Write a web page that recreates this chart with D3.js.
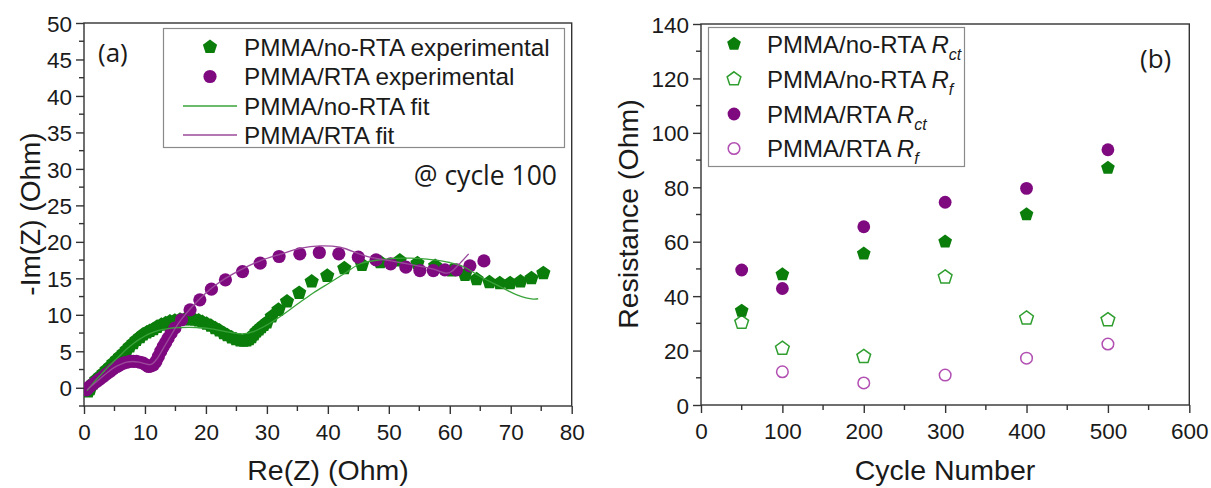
<!DOCTYPE html>
<html><head><meta charset="utf-8">
<script src="https://cdn.jsdelivr.net/npm/d3@7"></script>
<style>
body{margin:0;background:#fff;}
text{font-family:"Liberation Sans",Arial,sans-serif;fill:#1a1a1a;}
</style></head><body>
<svg id="c" width="1211" height="488"></svg>
<script>
// ---------- Panel (a) data: Nyquist, cycle 100 ----------
const noRtaExpRe = [0.7,1.0,1.5,2.0,2.6,3.2,3.7,4.3,4.8,5.4,5.9,6.5,7.0,7.5,8.1,8.6,9.2,9.7,10.3,10.8,11.4,12.0,12.7,13.4,14.1,14.9,15.75,16.6,17.4,18.1,18.8,19.4,20.1,20.8,21.5,22.2,22.9,23.5,24.2,24.9,25.6,26.2,26.7,27.1,27.5,27.9,28.3,28.7,29.1,29.5,30.0,30.8,31.9,33.3,35.3,37.35,39.9,42.7,45.6,48.6,51.8,54.7,57.6,60.3,62.5,64.4,66.5,68.2,69.9,71.6,73.4,75.35];
const noRtaExpIm = [-0.5,-0.2,0.6,1.1,1.55,2.0,2.47,2.9,3.38,3.85,4.29,4.75,5.2,5.65,6.12,6.55,6.94,7.3,7.58,7.8,8.04,8.35,8.63,8.85,9.09,9.2,9.32,9.38,9.41,9.32,9.22,9.0,8.77,8.5,8.17,7.85,7.49,7.2,6.89,6.65,6.48,6.45,6.48,6.65,6.94,7.3,7.72,8.0,8.31,8.6,8.95,9.77,10.68,11.82,13.0,14.56,15.34,16.39,16.85,17.2,17.44,17.07,16.71,16.07,15.47,14.88,14.47,14.34,14.34,14.56,15.02,15.71];
const rtaExpRe = [0.4,0.7,1.0,1.5,2.1,2.6,3.2,3.7,4.3,4.8,5.4,5.9,6.5,7.0,7.55,8.1,8.6,9.2,9.7,10.2,10.6,11.0,11.4,11.8,12.2,12.6,13.0,13.4,13.8,14.3,14.9,16.0,17.4,19.0,20.9,23.2,26.0,28.9,32.0,35.4,38.6,41.8,45.0,47.9,50.3,52.8,55.1,57.3,59.2,61.1,63.3,65.6];
const rtaExpIm = [-0.3,0.0,0.2,0.5,0.87,1.2,1.55,1.9,2.24,2.6,2.92,3.15,3.38,3.5,3.61,3.63,3.61,3.5,3.38,3.1,2.92,3.0,3.15,3.6,4.29,5.0,5.66,6.2,6.8,7.5,8.17,9.32,10.68,12.05,13.52,14.79,15.93,17.08,17.99,18.36,18.54,18.36,17.9,17.53,16.99,16.53,16.07,16.07,16.16,16.16,16.71,17.39];
const noRtaFitRe = [0.5,1,2,3,4,5,6,7,8,9,10,11,12,13,14,15.75,18.5,21.2,24,26.1,27.8,30,32.2,34.9,37.6,40.3,43,45.3,49.1,53.5,57.3,60,62.2,65,68.2,71,73.7,74.5];
const noRtaFitIm = [-0.4,0.1,1.1,2.0,2.9,3.7,4.5,5.3,6.0,6.6,7.1,7.5,7.8,8.0,8.15,8.26,8.26,8.04,7.58,7.4,7.7,8.6,9.77,11.4,13.0,14.4,15.8,17.0,17.6,17.76,17.53,17.17,16.62,15.25,13.88,12.74,12.15,12.2];
const rtaFitRe = [0.5,1,2,3,4,5,6,7,8,9,10,11,12,13,14,15,16,17.4,19,21,23.2,26,28.9,32.2,35.4,38.7,42,46.4,51.8,57.3,59.5,60.3,61.7,63.1];
const rtaFitIm = [-0.3,0.1,0.8,1.5,2.2,2.8,3.2,3.5,3.6,3.5,3.3,3.2,4.0,5.4,6.8,8.2,9.4,10.8,12.2,13.7,15.0,16.3,17.4,18.3,19.1,19.45,19.26,18.0,17.17,16.25,15.71,15.94,17.08,18.36];
const aXTicks = [0,10,20,30,40,50,60,70,80];
const aYTicks = [0,5,10,15,20,25,30,35,40,45,50];
const aLegend = ["PMMA/no-RTA experimental","PMMA/RTA experimental","PMMA/no-RTA fit","PMMA/RTA fit"];

// ---------- Panel (b) data: resistance vs cycle ----------
const cycles = [50,100,200,300,400,500];
const noRtaRct = [34.6,48.0,55.6,60.0,70.0,87.1];
const noRtaRf  = [30.3,20.8,17.8,47.0,31.9,31.3];
const rtaRct   = [49.6,42.8,65.5,74.5,79.6,93.8];
const rtaRfCycles = [100,200,300,400,500];
const rtaRf    = [12.2,8.1,11.0,17.2,22.4];
const bXTicks = [0,100,200,300,400,500,600];
const bYTicks = [0,20,40,60,80,100,120,140];

const GREEN = "#0b7d0b", PURPLE = "#7f0a80", GFIT = "#3aa33a", PFIT = "#9b4a9b";
const GOPEN = "#2f9e2f", POPEN = "#b24fb2";

const svg = d3.select("#c");
svg.append("rect").attr("width",1211).attr("height",488).attr("fill","#fff");

const pentagon = {draw(ctx, size){
  const r = Math.sqrt(size/2.378);
  for(let i=0;i<5;i++){
    const a = -Math.PI/2 + i*2*Math.PI/5;
    const x = r*Math.cos(a), y = r*Math.sin(a);
    if(i===0) ctx.moveTo(x,y); else ctx.lineTo(x,y);
  }
  ctx.closePath();
}};
const pentPath = d3.symbol().type(pentagon).size(2.378*56)();
const pentPathB = d3.symbol().type(pentagon).size(2.378*52)();

function frame(g, x, y, xt, yt, xMinor, yMinor){
  const [x0,x1] = x.range(), [y0,y1] = y.range();
  g.append("rect").attr("x",x0).attr("y",y1).attr("width",x1-x0).attr("height",y0-y1)
   .attr("fill","none").attr("stroke","#333").attr("stroke-width",1.4);
  const xa = g.append("g").attr("transform",`translate(0,${y0})`)
    .call(d3.axisBottom(x).tickValues(xt).tickSize(8).tickFormat(d3.format("d")));
  const ya = g.append("g").attr("transform",`translate(${x0},0)`)
    .call(d3.axisLeft(y).tickValues(yt).tickSize(8).tickFormat(d3.format("d")));
  [xa,ya].forEach(a=>{
    a.select(".domain").remove();
    a.selectAll("line").attr("stroke","#333").attr("stroke-width",1.4);
    a.selectAll("text").style("font-family","'Liberation Sans',Arial,sans-serif").style("font-size","22.5px").attr("fill","#1a1a1a");
  });
  xa.selectAll("text").attr("dy",null).attr("y",34);
  ya.selectAll("text").attr("x",-12).attr("dy","0.36em");
  xMinor.forEach(v=>g.append("line").attr("x1",x(v)).attr("x2",x(v)).attr("y1",y0).attr("y2",y0+5).attr("stroke","#333").attr("stroke-width",1.4));
  yMinor.forEach(v=>g.append("line").attr("y1",y(v)).attr("y2",y(v)).attr("x1",x0).attr("x2",x0-5).attr("stroke","#333").attr("stroke-width",1.4));
}

// ===== Panel (a) =====
const xa = d3.scaleLinear().domain([0,80]).range([84,571.7]);
const ya = d3.scaleLinear().domain([-2.5,50]).range([406,23]);
const ga = svg.append("g");
const aXMinor = d3.range(5,80,10);
const aYMinor = d3.range(-2.5,50,5);
frame(ga, xa, ya, aXTicks, aYTicks, aXMinor, aYMinor);

const clipA = svg.append("clipPath").attr("id","clipA").append("rect")
  .attr("x",84).attr("y",23).attr("width",571.7-84).attr("height",406-23);
const pa = ga.append("g").attr("clip-path","url(#clipA)");
pa.selectAll(".gp").data(noRtaExpRe.map((d,i)=>[d,noRtaExpIm[i]])).join("path")
  .attr("d",pentPath).attr("transform",d=>`translate(${xa(d[0])},${ya(d[1])})`).attr("fill",GREEN);
pa.selectAll(".pp").data(rtaExpRe.map((d,i)=>[d,rtaExpIm[i]])).join("circle")
  .attr("cx",d=>xa(d[0])).attr("cy",d=>ya(d[1])).attr("r",6.6).attr("fill",PURPLE);
const lineA = d3.line().x(d=>xa(d[0])).y(d=>ya(d[1])).curve(d3.curveCatmullRom);
pa.append("path").datum(noRtaFitRe.map((d,i)=>[d,noRtaFitIm[i]])).attr("d",lineA)
  .attr("fill","none").attr("stroke",GFIT).attr("stroke-width",1.3);
pa.append("path").datum(rtaFitRe.map((d,i)=>[d,rtaFitIm[i]])).attr("d",lineA)
  .attr("fill","none").attr("stroke",PFIT).attr("stroke-width",1.3);

// legend (a)
ga.append("rect").attr("x",163.5).attr("y",28.5).attr("width",401).attr("height",119)
  .attr("fill","#fff").attr("stroke","#8a8a8a").attr("stroke-width",1.2);
const laY = [47,76.5,106,135];
ga.append("path").attr("d",pentPath).attr("transform",`translate(210,${laY[0]})`).attr("fill",GREEN);
ga.append("circle").attr("cx",210).attr("cy",laY[1]).attr("r",6.6).attr("fill",PURPLE);
ga.append("line").attr("x1",183).attr("x2",237).attr("y1",laY[2]).attr("y2",laY[2]).attr("stroke",GFIT).attr("stroke-width",1.3);
ga.append("line").attr("x1",183).attr("x2",237).attr("y1",laY[3]).attr("y2",laY[3]).attr("stroke",PFIT).attr("stroke-width",1.3);
aLegend.forEach((t,i)=>ga.append("text").attr("x",244).attr("y",laY[i]).attr("dy","0.36em")
  .style("font-size","24.3px").text(t));

ga.append("text").attr("x",98).attr("y",62).style("font-family","'Open Sans',sans-serif").style("font-size","26px").text("(a)");
ga.append("text").attr("x",557).attr("y",185).attr("text-anchor","end").style("font-family","'Open Sans',sans-serif").style("font-size","26.5px").text("@ cycle 100");
ga.append("text").attr("transform","translate(40,214) rotate(-90)").attr("text-anchor","middle")
  .style("font-size","28px").text("-Im(Z) (Ohm)");
ga.append("text").attr("x",328).attr("y",480).attr("text-anchor","middle")
  .style("font-size","28.5px").text("Re(Z) (Ohm)");

// ===== Panel (b) =====
const xb = d3.scaleLinear().domain([0,600]).range([701,1189.3]);
const yb = d3.scaleLinear().domain([0,140]).range([405,24]);
const gb = svg.append("g");
frame(gb, xb, yb, bXTicks, bYTicks, d3.range(50,600,100), d3.range(10,140,20));

gb.selectAll(".a").data(cycles.map((c,i)=>[c,noRtaRf[i]])).join("path")
  .attr("d",pentPathB).attr("transform",d=>`translate(${xb(d[0])},${yb(d[1])})`)
  .attr("fill","#fff").attr("stroke",GOPEN).attr("stroke-width",1.5);
gb.selectAll(".b").data(rtaRfCycles.map((c,i)=>[c,rtaRf[i]])).join("circle")
  .attr("cx",d=>xb(d[0])).attr("cy",d=>yb(d[1])).attr("r",5.8)
  .attr("fill","#fff").attr("stroke",POPEN).attr("stroke-width",1.5);
gb.selectAll(".c").data(cycles.map((c,i)=>[c,noRtaRct[i]])).join("path")
  .attr("d",pentPathB).attr("transform",d=>`translate(${xb(d[0])},${yb(d[1])})`).attr("fill",GREEN);
gb.selectAll(".d").data(cycles.map((c,i)=>[c,rtaRct[i]])).join("circle")
  .attr("cx",d=>xb(d[0])).attr("cy",d=>yb(d[1])).attr("r",6.4).attr("fill",PURPLE);

// legend (b)
gb.append("rect").attr("x",708.5).attr("y",27.5).attr("width",256).attr("height",139)
  .attr("fill","#fff").attr("stroke","#8a8a8a").attr("stroke-width",1.2);
const lbY = [44,79,114,148.5];
gb.append("path").attr("d",pentPathB).attr("transform",`translate(734,${lbY[0]})`).attr("fill",GREEN);
gb.append("path").attr("d",pentPathB).attr("transform",`translate(734,${lbY[1]})`).attr("fill","#fff").attr("stroke",GOPEN).attr("stroke-width",1.5);
gb.append("circle").attr("cx",734).attr("cy",lbY[2]).attr("r",6.4).attr("fill",PURPLE);
gb.append("circle").attr("cx",734).attr("cy",lbY[3]).attr("r",5.8).attr("fill","#fff").attr("stroke",POPEN).attr("stroke-width",1.5);
const bLegend = [["PMMA/no-RTA ","ct"],["PMMA/no-RTA ","f"],["PMMA/RTA ","ct"],["PMMA/RTA ","f"]];
bLegend.forEach((t,i)=>{
  const tx = gb.append("text").attr("x",767).attr("y",lbY[i]).attr("dy","0.36em").style("font-size","24px");
  tx.append("tspan").text(t[0]);
  tx.append("tspan").style("font-style","italic").text("R");
  tx.append("tspan").style("font-style","italic").style("font-size","16px").attr("dy","7").text(t[1]);
});
gb.append("text").attr("x",1140).attr("y",68).style("font-family","'Open Sans',sans-serif").style("font-size","26px").text("(b)");
gb.append("text").attr("transform","translate(638,214) rotate(-90)").attr("text-anchor","middle")
  .style("font-size","28.5px").text("Resistance (Ohm)");
gb.append("text").attr("x",945).attr("y",480).attr("text-anchor","middle")
  .style("font-size","28.5px").text("Cycle Number");
</script></body></html>
